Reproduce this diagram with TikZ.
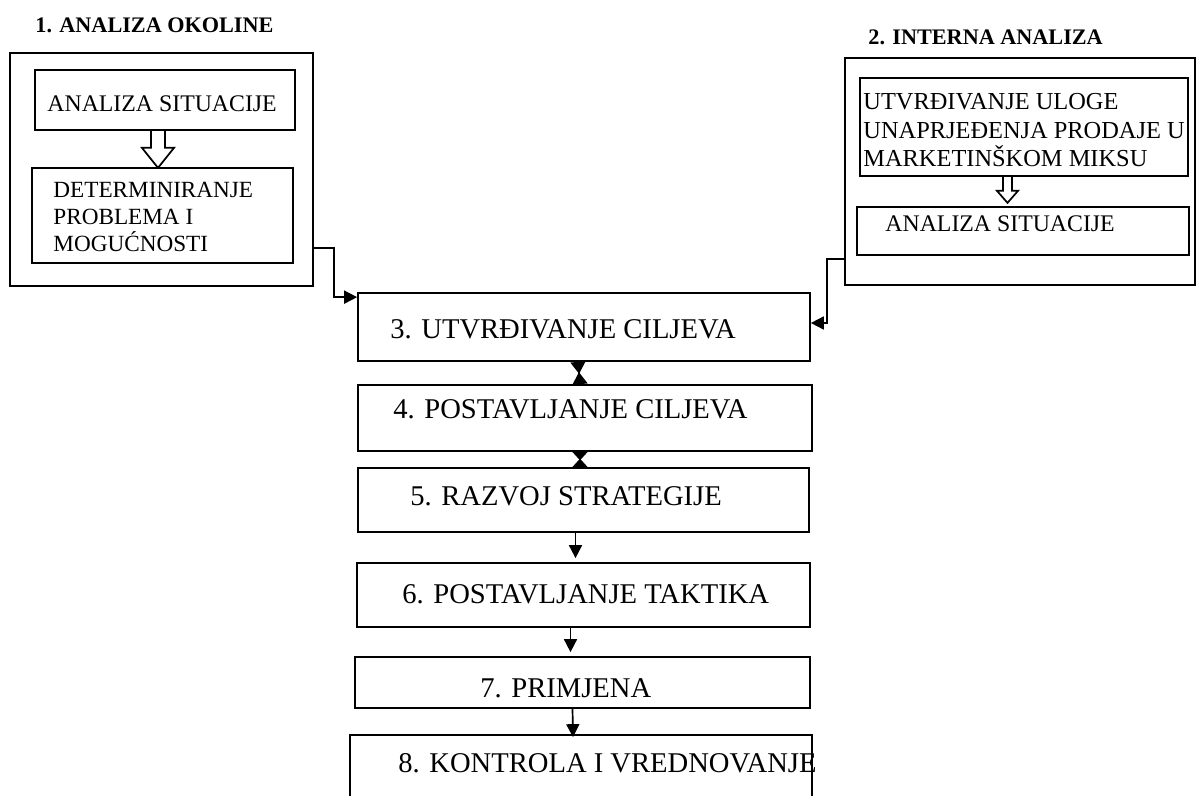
\documentclass[tikz,border=0pt]{standalone}
\usepackage{fontspec}
\setmainfont{Liberation Serif}
\usetikzlibrary{arrows.meta, calc}

\begin{document}
\begin{tikzpicture}[x=0.5pt, y=-0.5pt,
    box/.style={draw, line width=0.85pt, inner sep=0pt},
    lbl/.style={anchor=base west, inner sep=0pt, font=\fontsize{14.3}{16}\selectfont},
    sublbl/.style={anchor=base west, inner sep=0pt, align=left, font=\fontsize{11.9}{13.5}\selectfont},
    head/.style={anchor=base west, inner sep=0pt, font=\fontsize{11.1}{13}\selectfont\bfseries},
    link/.style={line width=0.85pt, -{Triangle[length=6.5pt, width=6.5pt]}},
    hollow/.style={draw, line width=0.85pt, line join=miter}]
        \useasboundingbox (0,0) rectangle (1198,796);
        \clip (0,0) rectangle (1198,796);

        % Environment analysis
        \node[head] (naslov1) at (35,33) {1. ANALIZA OKOLINE};
        \node[box, minimum width=151.5pt, minimum height=116.5pt] (okolina) at (161.5,169.5) {};
        \node[box, minimum width=130pt, minimum height=30pt] (situacijaL) at (165,100) {};
        \node[sublbl] (tSitL) at (47,112) {ANALIZA SITUACIJE};
        \node[box, minimum width=130.5pt, minimum height=47.5pt] (problemi) at (162.5,215.5) {};
        \node[sublbl, font=\fontsize{11.6}{13.5}\selectfont] (tProb) at (53,252) {DETERMINIRANJE\\PROBLEMA I\\MOGUĆNOSTI};
        \draw[hollow] ($(situacijaL.south)+(-14,0)$) -- ++(0,17) -- ++(-9,0) -- ++(16,20) -- ++(16,-20) -- ++(-9,0) -- ++(0,-17);

        % Internal analysis
        \node[head] (naslov2) at (868,45) {2. INTERNA ANALIZA};
        \node[box, minimum width=175pt, minimum height=113.5pt] (interna) at (1020,171.5) {};
        \node[box, minimum width=164pt, minimum height=49pt] (uloga) at (1024,127) {};
        \node[sublbl, font=\fontsize{12.2}{14.3}\selectfont] (tUloga) at (863,167) {UTVRĐIVANJE ULOGE\\UNAPRJEĐENJA PRODAJE U\\MARKETINŠKOM MIKSU};
        \node[box, minimum width=166pt, minimum height=24pt] (situacijaR) at (1023,231) {};
        \node[sublbl] (tSitR) at (885,232) {ANALIZA SITUACIJE};
        \draw[hollow] ($(uloga.south)+(-21,0)$) -- ++(0,14) -- ++(-6,0) -- ++(10.5,12) -- ++(10.5,-12) -- ++(-6,0) -- ++(0,-14);

        % Main steps
        \node[box, minimum width=226pt, minimum height=34pt] (utvrdjivanje) at (584,327) {};
        \node[lbl] (t3) at (390,339) {3. UTVRĐIVANJE CILJEVA};
        \node[box, minimum width=227pt, minimum height=33pt] (postavljanje) at (585,418) {};
        \node[lbl] (t4) at (393,418) {4. POSTAVLJANJE CILJEVA};
        \node[box, minimum width=225.5pt, minimum height=32pt] (strategija) at (583.5,500) {};
        \node[lbl] (t5) at (410,505) {5. RAZVOJ STRATEGIJE};
        \node[box, minimum width=226.5pt, minimum height=32pt] (taktika) at (583.5,595) {};
        \node[lbl] (t6) at (402,603) {6. POSTAVLJANJE TAKTIKA};
        \node[box, minimum width=227.5pt, minimum height=25.5pt] (primjena) at (582.5,682.5) {};
        \node[lbl] (t7) at (480,697) {7. PRIMJENA};
        \node[box, minimum width=231pt, minimum height=42.5pt] (kontrola) at (581,777.5) {};
        \node[lbl] (t8) at (398,772) {8. KONTROLA I VREDNOVANJE};

        % Connectors
        \draw[link] ([yshift=19.5pt]okolina.south east) -- ++(20,0) |- ([yshift=-2.5pt]utvrdjivanje.north west);
        \draw[link] ([yshift=13.5pt]interna.south west) -- ++(-17,0) |- ([yshift=2pt]utvrdjivanje.east);
        \draw[line width=0.85pt, {Triangle[reversed, length=6pt, width=7.5pt]}-{Triangle[reversed, length=6pt, width=7.5pt]}] ([xshift=-3pt]utvrdjivanje.south) -- ([xshift=-2.5pt]postavljanje.north);
        \draw[line width=0.85pt, {Triangle[reversed, length=4.25pt, width=7.5pt]}-{Triangle[reversed, length=4.25pt, width=7.5pt]}] ([xshift=-2.5pt]postavljanje.south) -- ([xshift=-1.75pt]strategija.north);
        \draw[link, shorten >=2pt] ([xshift=-4pt]strategija.south) -- ([xshift=-4pt]taktika.north);
        \draw[link, shorten >=2pt] ([xshift=-6.5pt]taktika.south) -- ([xshift=-6pt]primjena.north);
        \draw[link, shorten >=-1.5pt] ([xshift=-5pt]primjena.south) -- ([xshift=-4pt]kontrola.north);
    \end{tikzpicture}
\end{document}
